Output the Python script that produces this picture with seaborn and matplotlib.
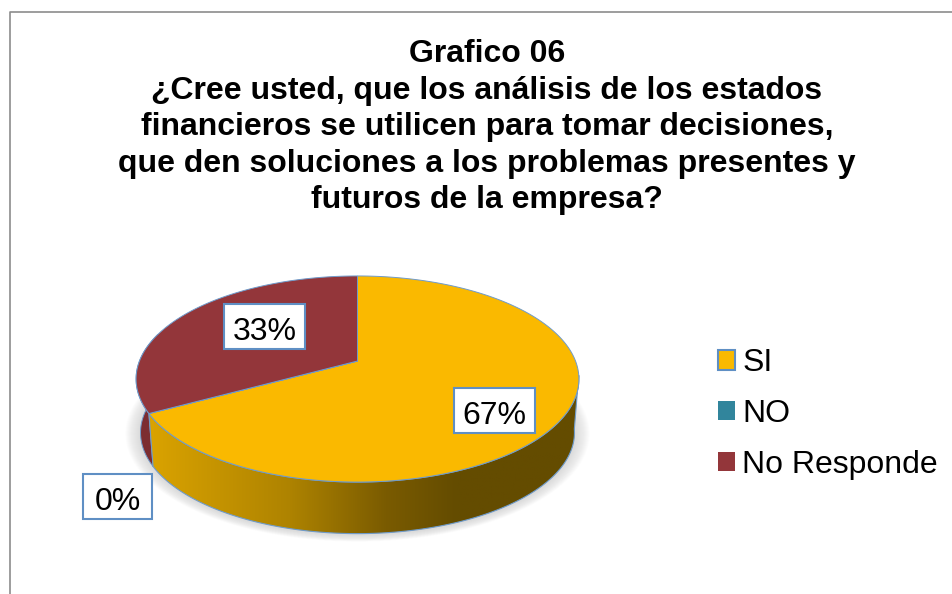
import numpy as np
import matplotlib
matplotlib.use("Agg")
import matplotlib.pyplot as plt
import seaborn as sns
from matplotlib.colors import LinearSegmentedColormap
from matplotlib.patches import Patch, Polygon, Rectangle
from matplotlib.path import Path
from matplotlib.transforms import Affine2D, Transform

categories = ["SI", "NO", "No Responde"]
values = [67, 0, 33]
value_labels = ["67%", "0%", "33%"]
colors = ["#FAB900", "#31859C", "#93363A"]
title = ("Grafico 06\n¿Cree usted, que los análisis de los estados\n"
         "financieros se utilicen para tomar decisiones,\n"
         "que den soluciones a los problemas presentes y\n"
         "futuros de la empresa?")

W, H = 952, 594
sns.set_theme(style="white")
plt.rcParams["font.family"] = ["Liberation Sans", "DejaVu Sans"]
EDGE = "#6F9BCB"
K = 0.1747
RX, RY, CX, APEX_Y = 218.0, 99.9, 357.5, 361.0
WALL_SCALE, WALL_APEX_Y = 0.98, 415.0


class Tilt(Transform):
    """Perspective view of the unit-circle pie, in pixel-like axes units."""
    input_dims = output_dims = 2

    def __init__(self, scale=1.0, apex=APEX_Y):
        super().__init__()
        self.scale, self.apex = scale, apex

    def transform_non_affine(self, xy):
        xy = np.asarray(xy, dtype=float)
        w = 1 + K * xy[:, 1]
        return np.column_stack([CX + self.scale * RX * xy[:, 0] / w,
                                self.apex - self.scale * RY * xy[:, 1] / w])

    def transform_path_non_affine(self, path):
        polys = path.to_polygons(Affine2D().scale(2000), closed_only=False)
        if not polys:
            return Path(self.transform_non_affine(path.vertices), path.codes)
        verts = np.vstack(polys) / 2000
        return Path(self.transform_non_affine(verts))


def rim(a0, a1, tr):
    a = np.radians(np.linspace(a0, a1, 160))
    return tr.transform_non_affine(np.column_stack([np.cos(a), np.sin(a)]))


fig = plt.figure(figsize=(W / 100, H / 100), dpi=100, facecolor="white")
ax = fig.add_axes([0, 0, 1, 1])
wedges, _ = ax.pie(values, colors=colors, startangle=90, counterclock=False,
                   wedgeprops=dict(edgecolor=EDGE, linewidth=0.7))
ax.set_aspect("auto")
top, low = Tilt(), Tilt(WALL_SCALE, WALL_APEX_Y)

# soft shadow under the disc
full = rim(0, 360, low)
centre = np.array([CX, WALL_APEX_Y + 18])
for grow in np.linspace(15, 1, 15):
    f = 1 + grow / 215
    ax.add_patch(Polygon(centre + (full - centre) * f + [0, 1], closed=True,
                         facecolor="#888888", edgecolor="none", alpha=0.02, zorder=0.5))

# side walls, running around the rim from each slice's own angles
si, no, nr = wedges
si_end = si.theta1
wall_si = np.vstack([rim(si_end, -8, top), rim(-8, si_end, low)])
wall_nr = np.vstack([rim(si_end - 45, si_end, top), rim(si_end, si_end - 45, low)])
ax.add_patch(Polygon(wall_nr, closed=True, facecolor="#7C2D31", edgecolor=EDGE, linewidth=0.7, zorder=1))
p_si = Polygon(wall_si, closed=True, facecolor="none", edgecolor="none", zorder=1.2)
ax.add_patch(p_si)
cmap = LinearSegmentedColormap.from_list(
    "wall", [(0, "#DDA500"), (0.34, "#AE8300"), (0.56, "#7A5B00"), (0.72, "#644C00"), (1, "#644C00")])
img = ax.imshow(np.linspace(0, 1, 256)[None, :], cmap=cmap, extent=[140, 580, 540, 370],
                aspect="auto", zorder=1.1)
img.set_clip_path(p_si)
ax.add_patch(Polygon(wall_si, closed=True, facecolor="none", edgecolor=EDGE, linewidth=0.8, zorder=1.3))

for w in wedges:
    w.set_transform(top + ax.transData)
    w.set_zorder(2)

ax.set_xlim(0, W)
ax.set_ylim(H, 0)
ax.axis("off")

# chart frame, open to the right and the bottom of the picture
ax.plot([10, 10, W], [H, 12, 12], color="#8C8C8C", lw=1.2, zorder=0.2, clip_on=False)

ax.text(487, 39.5, title, ha="center", va="top", fontsize=23, fontweight="bold",
        color="black", linespacing=1.28, zorder=5)

label_xy = [(494.5, 410.5), (117.5, 496.5), (264.5, 326.5)]
label_w = [81, 69, 81]
for (x, y), t, bw in zip(label_xy, value_labels, label_w):
    ax.add_patch(Rectangle((x - bw / 2, y - 22.5), bw, 45, facecolor="white", edgecolor="#5F8FC4",
                           linewidth=1.5, zorder=5.5))
    ax.text(x, y + 1.5, t, ha="center", va="center_baseline", fontsize=23, color="black", zorder=6)

handles = [Patch(facecolor=colors[0], edgecolor="#5F8FC4", linewidth=1.5),
           Patch(facecolor=colors[1], edgecolor="none"),
           Patch(facecolor=colors[2], edgecolor="none")]
ax.legend(handles, categories, loc="center left", bbox_to_anchor=(717.5 / W, 1 - 414 / H),
          bbox_transform=fig.transFigure, frameon=False, fontsize=23, borderpad=0, borderaxespad=0,
          handlelength=0.56, handleheight=0.56, handletextpad=0.21, labelspacing=0.65,
          labelcolor="black")

fig.savefig("out.png", dpi=100, facecolor="white")
